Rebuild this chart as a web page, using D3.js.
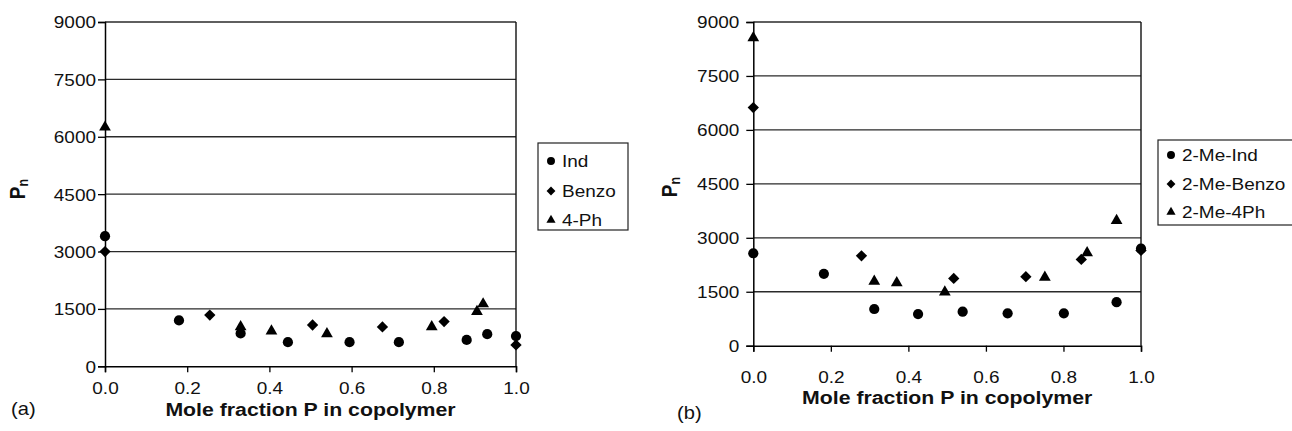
<!DOCTYPE html>
<html>
<head>
<meta charset="utf-8">
<script src="https://cdn.jsdelivr.net/npm/d3@7"></script>
<style>
  html, body { margin: 0; padding: 0; background: #fff; }
  svg { display: block; font-family: "Liberation Sans", Arial, Helvetica, sans-serif; }
</style>
</head>
<body>
<svg id="chart" width="1292" height="431"></svg>
<script>
// ---- data ----
const xTicks = [0, 0.2, 0.4, 0.6, 0.8, 1.0];
const yTicks = [0, 1500, 3000, 4500, 6000, 7500, 9000];
const xTitle = "Mole fraction P in copolymer";

// panel (a)
const aNames = ["Ind", "Benzo", "4-Ph"];
const aIndP   = [0, 0.18, 0.33, 0.445, 0.595, 0.715, 0.88, 0.93, 1.0];
const aIndPn  = [3400, 1200, 860, 630, 630, 630, 690, 840, 790];
const aBenzoP  = [0, 0.255, 0.505, 0.675, 0.825, 1.0];
const aBenzoPn = [3000, 1340, 1080, 1030, 1170, 560];
const aPhP  = [0, 0.33, 0.405, 0.54, 0.795, 0.905, 0.92];
const aPhPn = [6250, 1030, 920, 850, 1030, 1430, 1630];

// panel (b)
const bNames = ["2-Me-Ind", "2-Me-Benzo", "2-Me-4Ph"];
const bIndP   = [0, 0.182, 0.312, 0.425, 0.54, 0.656, 0.801, 0.937, 1.0];
const bIndPn  = [2570, 2000, 1020, 880, 945, 900, 900, 1210, 2700];
const bBenzoP  = [0, 0.279, 0.517, 0.703, 0.846, 1.0];
const bBenzoPn = [6620, 2500, 1870, 1920, 2400, 2650];
const bPhP  = [0, 0.312, 0.37, 0.494, 0.752, 0.861, 0.937];
const bPhPn = [8560, 1790, 1750, 1490, 1900, 2580, 3480];

const svg = d3.select("#chart");
const SX = 1.15;       // horizontal text stretch
const FONT = 16.5;

const shapes = {
  circle:  d3.symbol().type(d3.symbolCircle),
  diamond: d3.symbol().type(d3.symbolSquare),
  triangle: d3.symbol().type(d3.symbolTriangle)
};
const shapeOrder = ["circle", "diamond", "triangle"];

function drawMarker(g, shape, x, y, scale) {
  const s = scale || 1;
  let p;
  if (shape === "circle") p = g.append("path").attr("d", shapes.circle.size(82 * s * s)());
  else if (shape === "diamond") p = g.append("path").attr("d", shapes.diamond.size(64 * s * s)());
  else p = g.append("path").attr("d", shapes.triangle.size(60 * s * s)());
  p.attr("fill", "#000")
   .attr("transform", `translate(${x},${y})` + (shape === "diamond" ? " rotate(45)" : ""));
}

function panel(cfg) {
  const x = d3.scaleLinear().domain([0, 1]).range([cfg.x0, cfg.x1]);
  const y = d3.scaleLinear().domain([0, 9000]).range([cfg.y0, cfg.y1]);
  const g = svg.append("g");

  // horizontal grid lines
  g.append("g").selectAll("line")
    .data(yTicks.filter(v => v > 0))
    .join("line")
    .attr("x1", cfg.x0).attr("x2", cfg.x1)
    .attr("y1", d => y(d)).attr("y2", d => y(d))
    .attr("stroke", "#2a2a2a").attr("stroke-width", 1.3);

  // right frame line
  g.append("line")
    .attr("x1", cfg.x1).attr("x2", cfg.x1)
    .attr("y1", y(9000)).attr("y2", y(0))
    .attr("stroke", "#111").attr("stroke-width", 1.4);

  // y axis
  const ya = g.append("g").attr("transform", `translate(${cfg.x0},0)`)
    .call(d3.axisLeft(y).tickValues(yTicks).tickFormat(d3.format("d")).tickSizeOuter(0).tickSize(7));
  ya.select(".domain").attr("stroke", "#000").attr("stroke-width", 1.5);
  ya.selectAll(".tick line").attr("stroke", "#000").attr("stroke-width", 1.3);
  ya.selectAll(".tick text")
    .attr("x", null).attr("dy", "0.36em")
    .attr("transform", `translate(${-cfg.yLabPad},0) scale(${SX},1)`)
    .attr("font-size", FONT).attr("font-family", "Liberation Sans, Arial, sans-serif")
    .attr("fill", "#111");

  // x axis
  const xa = g.append("g").attr("transform", `translate(0,${cfg.y0})`)
    .call(d3.axisBottom(x).tickValues(xTicks).tickFormat(d3.format(".1f")).tickSizeOuter(0).tickSize(6));
  xa.select(".domain").attr("stroke", "#000").attr("stroke-width", 1.5);
  xa.selectAll(".tick line").attr("stroke", "#000").attr("stroke-width", 1.3);
  xa.selectAll(".tick text")
    .attr("y", null).attr("dy", null)
    .attr("transform", `translate(0,${cfg.xLabBase - cfg.y0}) scale(${SX},1)`)
    .attr("font-size", FONT).attr("font-family", "Liberation Sans, Arial, sans-serif")
    .attr("fill", "#111");

  // points
  const pts = g.append("g");
  cfg.series.forEach((s, i) => {
    s.p.forEach((pv, j) => drawMarker(pts, shapeOrder[i], x(pv), y(s.pn[j])));
  });

  // x title
  g.append("text")
    .attr("transform", `translate(${(cfg.x0 + cfg.x1) / 2},${cfg.titleBase}) scale(${SX},1)`)
    .attr("text-anchor", "middle")
    .attr("font-size", 18.5).attr("font-weight", "bold").attr("fill", "#111")
    .text(xTitle);

  // y title  P with subscript n
  const yt = g.append("text")
    .attr("transform", `translate(${cfg.yTitleX},${cfg.yTitleY}) rotate(-90) scale(1,${SX})`)
    .attr("text-anchor", "middle")
    .attr("font-size", 19).attr("font-weight", "bold").attr("fill", "#111");
  yt.append("tspan").text("P");
  yt.append("tspan").attr("font-size", 12.5).attr("dy", 3).text("n");

  // panel label
  g.append("text")
    .attr("transform", `translate(${cfg.tagX},${cfg.tagY}) scale(${SX},1)`)
    .attr("font-size", 17.5).attr("fill", "#111")
    .text(cfg.tag);

  // legend
  const L = cfg.legend;
  const lg = g.append("g");
  lg.append("rect")
    .attr("x", L.x).attr("y", L.y).attr("width", L.w).attr("height", L.h)
    .attr("fill", "#fff").attr("stroke", "#222").attr("stroke-width", 1.2);
  cfg.names.forEach((nm, i) => {
    const cy = L.rows[i];
    drawMarker(lg, shapeOrder[i], L.mx, cy, 0.78);
    lg.append("text")
      .attr("transform", `translate(${L.tx},${cy}) scale(${SX},1)`)
      .attr("dy", "0.36em")
      .attr("font-size", FONT).attr("fill", "#111")
      .text(nm);
  });
}

panel({
  x0: 105, x1: 516, y0: 366.3, y1: 22,
  yLabPad: 9, xLabBase: 394, titleBase: 416,
  yTitleX: 25, yTitleY: 189,
  tag: "(a)", tagX: 11, tagY: 415,
  names: aNames,
  series: [
    { p: aIndP, pn: aIndPn },
    { p: aBenzoP, pn: aBenzoPn },
    { p: aPhP, pn: aPhPn }
  ],
  legend: { x: 538, y: 143, w: 90, h: 87, rows: [161, 191, 220], mx: 551, tx: 562 }
});

panel({
  x0: 753.3, x1: 1141, y0: 345.7, y1: 22,
  yLabPad: 14, xLabBase: 382.5, titleBase: 404,
  yTitleX: 677, yTitleY: 187,
  tag: "(b)", tagX: 677, tagY: 419,
  names: bNames,
  series: [
    { p: bIndP, pn: bIndPn },
    { p: bBenzoP, pn: bBenzoPn },
    { p: bPhP, pn: bPhPn }
  ],
  legend: { x: 1158, y: 140, w: 150, h: 85, rows: [155, 184, 212], mx: 1171, tx: 1182 }
});
</script>
</body>
</html>
